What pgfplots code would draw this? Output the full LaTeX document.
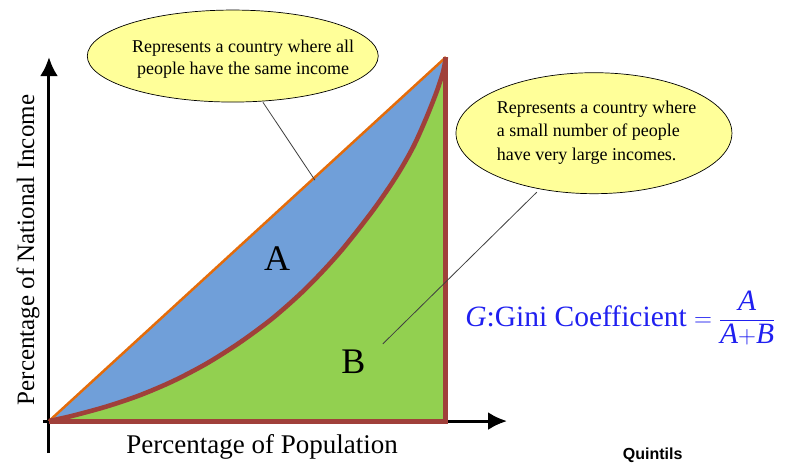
\documentclass[border=0pt]{standalone}
\usepackage{amsmath}
\usepackage{pgfplots}
\pgfplotsset{compat=1.18}
\usepackage{fontspec}
\setmainfont{Liberation Serif}
\newfontfamily\arialfont{Liberation Sans}
\usetikzlibrary{arrows.meta,shapes.geometric}
\definecolor{areaA}{HTML}{709FD9}
\definecolor{areaB}{HTML}{92D050}
\definecolor{equal}{HTML}{E46C0A}
\definecolor{lorenz}{HTML}{A0403A}
\definecolor{balloon}{HTML}{FFFF99}
\definecolor{gini}{HTML}{2020F0}
\tikzset{
  bal/.style={ellipse,draw=black,line width=.7pt,fill=balloon,inner sep=0pt},
}
\pgfplotstableread{
x     y
0     0
6.1   1.5
14.5  4.0
22.9  7.1
31.3  11.0
39.7  15.8
48.1  21.6
56.5  28.4
64.9  36.6
73.3  46.4
81.7  58.0
87.6  67.4
91.8  75.4
95.1  83.4
97.7  90.6
99.3  96.0
100   100
}\lorenzdata
\begin{document}
\begin{tikzpicture}
\begin{axis}[
  x=3.97pt, y=3.64pt,
  xmin=-1.5, xmax=115.4, ymin=-8.8, ymax=100,
  axis lines=middle,
  axis line style={line width=3pt,-{Latex[length=19pt,width=18pt]}},
  ticks=none,
  clip=false,
]
% invisible frame: picture proportions
\path (axis cs:-12.34,-11.26) rectangle (axis cs:188.2,115.7);

% area A (under line of equality)
\addplot[fill=areaA,draw=none] coordinates {(0,0) (100,100) (100,0)} -- cycle;
% area B (under Lorenz curve)
\addplot[fill=areaB,draw=none,smooth] table {\lorenzdata} \closedcycle;
% line of equality
\addplot[equal,line width=2.5pt] coordinates {(0,0) (100,100)};
% Lorenz curve
\addplot[lorenz,line width=4.6pt,smooth] table {\lorenzdata};
\addplot[lorenz,line width=5pt] coordinates {(0,0) (100,0) (100,100)};

% callouts
\draw[black!75,line width=.8pt] (axis cs:53.9,87.6) -- (axis cs:67.0,66.2);
\draw[black!75,line width=.8pt] (axis cs:122.9,62.9) -- (axis cs:84.1,21.2);
\node[bal,minimum width=291pt,minimum height=92pt] at (axis cs:46.3,100.3) {};
\node[align=center,font=\fontsize{18}{21.5}\selectfont] at (axis cs:48.9,99.4)
  {Represents a country where all\\people have the same income};
\node[bal,minimum width=276pt,minimum height=121pt] at (axis cs:137.3,79.1) {};
\node[anchor=west,inner sep=0pt,align=left,font=\fontsize{18}{23.5}\selectfont] at (axis cs:112.8,79.3)
  {Represents a country where\\a small number of people\\have very large incomes.};

% area labels
\node[font=\fontsize{36}{40}\selectfont] at (axis cs:57.5,44.7) {A};
\node[font=\fontsize{36}{40}\selectfont] at (axis cs:76.7,16.3) {B};

% axis titles
\node[font=\fontsize{27}{30}\selectfont] at (axis cs:53.7,-7.1) {Percentage of Population};
\node[font=\fontsize{25}{28}\selectfont,rotate=90] at (axis cs:-5.3,47) {Percentage of National Income};

% formula
\node[anchor=west,text=gini,font=\fontsize{29.5}{33}\selectfont] at (axis cs:104.0,28.3)
  {\textit{G}:Gini Coefficient $=\dfrac{\textit{A}}{\textit{A}{+}\textit{B}}$};
\node[font=\arialfont\bfseries\fontsize{16}{18}\selectfont] at (axis cs:152.1,-9.4) {Quintils};
\end{axis}
\end{tikzpicture}
\end{document}
